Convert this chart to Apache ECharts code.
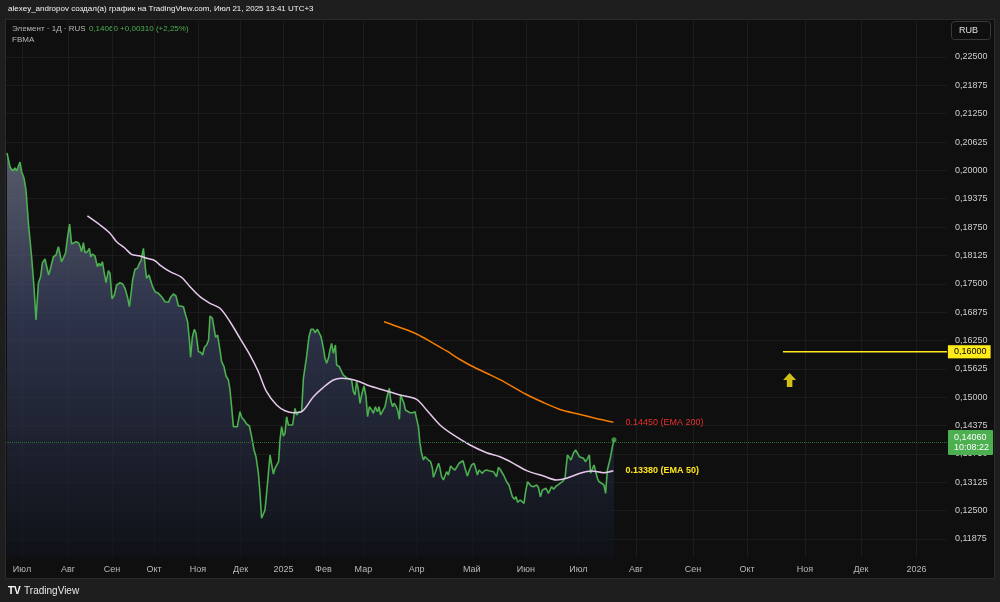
<!DOCTYPE html>
<html>
<head>
<meta charset="utf-8">
<script src="https://cdn.jsdelivr.net/npm/echarts@6/dist/echarts.min.js"></script>
<style>
  html, body { margin: 0; padding: 0; background: #1e1e1e; }
  #pane {
    position: absolute; left: 5px; top: 19px; width: 990px; height: 560px;
    background: #0f0f0f; border: 1px solid #2b2b2b; box-sizing: border-box;
  }
  #chart { position: absolute; left: 0; top: 0; width: 1000px; height: 602px; }
</style>
</head>
<body>
<div id="pane"></div>
<div id="chart"></div>
<script>
// x is a bar number on the daily chart, y the price in RUB
const close = [
  [0.5,0.20384],[2,0.20075],[3.3,0.19993],[4.5,0.20053],[5.3,0.19987],[6.2,0.20009],[7,0.20185],[7.8,0.19971],[9,0.19832],[10,0.19568],
  [11.2,0.18840],[12.8,0.18097],[14,0.17436],[15,0.16702],[16.2,0.17518],[17.3,0.17656],[18.2,0.17959],[19.5,0.18047],[20.3,0.18069],[21.3,0.17694],
  [22.3,0.17848],[23.7,0.18097],[25,0.18135],[26.2,0.18318],[27,0.18333],[27.8,0.17987],[28.7,0.18069],[29.8,0.18186],[30.8,0.18538],[31.8,0.18818],
  [32.8,0.18377],[33.7,0.18393],[35,0.18428],[36.2,0.18406],[37,0.18333],[37.8,0.18208],[38.7,0.18406],[39.5,0.18186],[40.7,0.18208],[41.7,0.18283],
  [42.3,0.18097],[43.3,0.18157],[44.5,0.18113],[45.7,0.17877],[46.5,0.17952],[47.3,0.17892],[48.2,0.17987],[49,0.17767],[50,0.17524],[51.2,0.17789],
  [52,0.17731],[53,0.17171],[54.2,0.17253],[55.3,0.17474],[57,0.17524],[58.3,0.17496],[59.5,0.17401],[60.7,0.17216],[61.7,0.16995],[62.5,0.17275],
  [63.3,0.17584],[64.5,0.17820],[65.7,0.17842],[66.7,0.17952],[67.5,0.18009],[68.7,0.18283],[69.7,0.17842],[70.3,0.17621],[71.5,0.17694],[72,0.17731],
  [73.3,0.17436],[74.5,0.17326],[76.2,0.17290],[77.8,0.17216],[79.5,0.17105],[81.2,0.17092],[82.3,0.17202],[83.7,0.17275],[85,0.17231],[86.2,0.17011],
  [87.3,0.17011],[88.7,0.16995],[89.8,0.16812],[90.8,0.16664],[91.7,0.16261],[92.3,0.15880],[93.2,0.16334],[94.2,0.16497],[95,0.16409],[96.2,0.16003],
  [97.3,0.15990],[98.3,0.15930],[99.2,0.16100],[100.3,0.16151],[101.3,0.16261],[102,0.16790],[103.2,0.16739],[104,0.16702],[104.8,0.16320],[105.8,0.16371],
  [107,0.16040],[107.8,0.15783],[109,0.15672],[110,0.15467],[111.2,0.15379],[112,0.15159],[112.8,0.14791],[113.7,0.14350],[114.7,0.14314],[115.7,0.14350],
  [117,0.14680],[117.8,0.14557],[119,0.14497],[120.3,0.14409],[121.7,0.14365],[122.8,0.14129],[124,0.13836],[125,0.13688],[126.2,0.13322],[127,0.12881],
  [127.8,0.12330],[128.7,0.12365],[129.5,0.12513],[130.3,0.12881],[131.2,0.13322],[132,0.13726],[133,0.13468],[133.7,0.13307],[134.5,0.13432],[135.3,0.13395],
  [136.3,0.13578],[137,0.14056],[137.8,0.14350],[138.7,0.14145],[139.5,0.14204],[140.3,0.14570],[141.2,0.14387],[142,0.14425],[143.3,0.14387],[144.5,0.14755],
  [145.3,0.14608],[146.5,0.14680],[147.8,0.14680],[148.7,0.15417],[149.5,0.15452],[150.3,0.15893],[151.5,0.16334],[152.5,0.16497],[153.7,0.16497],[154.5,0.16422],
  [155.7,0.16497],[156.7,0.16481],[157.5,0.16334],[158.7,0.16078],[159.5,0.15858],[160.3,0.15747],[161.2,0.15858],[162,0.16040],[162.8,0.16188],[163.7,0.15968],
  [164.7,0.16151],[165.3,0.15710],[166.7,0.15672],[167.8,0.15562],[168.7,0.15489],[169.5,0.15452],[170.7,0.15417],[171.7,0.15379],[172.8,0.15379],[173.7,0.15121],
  [174.5,0.15048],[175.3,0.15342],[176.2,0.15159],[177,0.14865],[177.8,0.15048],[179,0.15247],[180,0.15011],[180.8,0.14570],[181.7,0.14791],[182.8,0.14718],
  [183.7,0.14645],[184.7,0.14791],[185.7,0.14680],[186.5,0.14791],[187.3,0.14608],[188.3,0.14608],[189.5,0.14791],[190.7,0.15048],[191.7,0.15196],[192.3,0.14938],
  [193.3,0.14791],[194,0.14865],[195,0.14806],[195.8,0.14718],[196.7,0.14513],[197.3,0.15048],[198.2,0.15011],[199,0.14865],[199.7,0.14718],[200.7,0.14680],
  [202,0.14658],[203.3,0.14658],[204.5,0.14680],[205.3,0.14645],[206.2,0.14350],[207,0.13984],[207.8,0.13763],[208.7,0.13615],[209.5,0.13688],[210.3,0.13653],
  [211.2,0.13615],[212.3,0.13578],[213.2,0.13432],[213.7,0.13234],[214.5,0.13322],[215.3,0.13358],[216.3,0.13543],[217,0.13432],[217.8,0.13247],[218.7,0.13175],
  [219.5,0.13212],[220.3,0.13358],[221.2,0.13285],[222.3,0.13483],[223.3,0.13432],[224.5,0.13395],[225.3,0.13358],[226.5,0.13543],[227.5,0.13505],[228.5,0.13600],
  [229.5,0.13432],[230.7,0.13263],[231.7,0.13395],[232.8,0.13505],[234,0.13543],[234.8,0.13432],[235.7,0.13285],[236.5,0.13395],[237.3,0.13432],[238.2,0.13322],
  [239.2,0.13380],[240.3,0.13395],[241.5,0.13380],[242.5,0.13410],[243.7,0.13358],[244.5,0.13322],[245.3,0.13247],[246.2,0.13454],[247.3,0.13395],[248.2,0.13358],
  [249.2,0.13247],[250.3,0.13137],[251.5,0.13064],[252.5,0.13027],[253.2,0.12806],[254.2,0.12749],[255,0.12806],[255.8,0.12683],[257,0.12734],[257.8,0.12696],
  [259,0.12661],[259.8,0.12917],[260.8,0.13137],[261.7,0.13137],[262.5,0.13042],[263.7,0.13027],[264.5,0.13027],[265.3,0.13064],[266.2,0.13014],[267.2,0.12806],
  [268.2,0.12954],[269.2,0.12917],[270,0.12992],[271.2,0.12881],[272,0.12844],[272.8,0.13027],[273.8,0.12970],[274.8,0.13027],[275.8,0.13064],[277,0.13102],
  [278.2,0.13137],[279.5,0.13212],[280.7,0.13726],[281.7,0.13726],[282.5,0.13615],[283.7,0.13763],[284.8,0.13836],[285.8,0.13798],[286.7,0.13688],[287.5,0.13726],
  [288.7,0.13653],[289.8,0.13578],[290.8,0.13653],[291.7,0.13726],[292.3,0.13322],[293.2,0.13307],[294,0.13505],[294.8,0.13527],[295.7,0.13212],[296.5,0.13137],
  [297.8,0.13102],[299,0.13064],[299.8,0.12881],[300.7,0.13395],[301.5,0.13432],[302.3,0.13688],[303.2,0.13909],[304,0.14060]
];

const ema50 = [
  [40.7,0.18995],[47,0.18796],[52,0.18613],[55.3,0.18428],[59.5,0.18283],[62.8,0.18150],[67,0.18113],[70.3,0.18062],[74.5,0.18009],[77,0.17914],
  [82,0.17767],[87.8,0.17643],[92,0.17436],[97,0.17216],[102,0.17070],[107,0.16960],[112,0.16664],[117,0.16298],[122,0.15930],[126.2,0.15562],
  [130.3,0.15121],[135.3,0.14828],[139.5,0.14702],[143.7,0.14658],[147.8,0.14680],[153.7,0.15011],[158.7,0.15218],[163.7,0.15379],[167.8,0.15417],[175.3,0.15364],
  [182,0.15247],[188.7,0.15159],[197,0.15048],[205.3,0.14954],[210.3,0.14718],[217,0.14387],[223.7,0.14167],[232,0.13946],[240.3,0.13776],[247,0.13688],
  [253.7,0.13543],[260.3,0.13380],[268.7,0.13263],[275.3,0.13175],[280.3,0.13212],[287,0.13322],[292.8,0.13373],[298.7,0.13336],[303.7,0.13380]
];

const ema200 = [
  [189,0.16664],[197,0.16537],[205.3,0.16393],[213.7,0.16188],[220.3,0.16019],[227,0.15831],[232.8,0.15688],[241.2,0.15511],[249.5,0.15328],[259.8,0.15070],
  [268.7,0.14883],[277.8,0.14718],[286.2,0.14630],[294.5,0.14535],[303.7,0.14450]
];

// drawn level and arrow
const levelPrice = 0.16;
const levelFrom = 388.5;
const arrowPoint = [391.8, 0.15379];

// axis scale
const xMax = 470.5;
const yMin = 0.114771;
const yMax = 0.233377;
const yTicks = [0.11875, 0.125, 0.13125, 0.1375, 0.14375, 0.15, 0.15625, 0.1625, 0.16875,
  0.175, 0.18125, 0.1875, 0.19375, 0.2, 0.20625, 0.2125, 0.21875, 0.225];
const monthTicks = [8, 31, 53, 74, 96, 117.3, 138.7, 158.7, 178.7, 205.3, 232.9, 259.9,
  286.2, 315, 343.5, 370.5, 399.5, 427.5, 455.3];
const monthNames = ["Июл", "Авг", "Сен", "Окт", "Ноя", "Дек", "2025", "Фев", "Мар", "Апр",
  "Май", "Июн", "Июл", "Авг", "Сен", "Окт", "Ноя", "Дек", "2026"];

const lastClose = close[close.length - 1];
const fmt = (v) => v.toFixed(5).replace(".", ",");
const FONT = "Liberation Sans";

const chart = echarts.init(document.getElementById("chart"));
chart.setOption({
  backgroundColor: "transparent",
  animation: false,
  textStyle: { fontFamily: FONT },
  grid: { left: 6, right: 53, top: 19, bottom: 45 },
  xAxis: {
    type: "value",
    min: 0,
    max: xMax,
    axisLine: { show: false },
    axisTick: { show: false, customValues: monthTicks },
    splitLine: { show: true, lineStyle: { color: "#1c1c1c", width: 1 } },
    axisLabel: {
      customValues: monthTicks,
      color: "#b8b8b8",
      fontSize: 9,
      margin: 8,
      formatter: function (v) {
        let best = 0;
        for (let i = 0; i < monthTicks.length; i++) {
          if (Math.abs(monthTicks[i] - v) < Math.abs(monthTicks[best] - v)) best = i;
        }
        return monthNames[best];
      },
    },
  },
  yAxis: {
    type: "value",
    position: "right",
    min: yMin,
    max: yMax,
    axisLine: { show: false },
    axisTick: { show: false, customValues: yTicks },
    splitLine: { show: true, lineStyle: { color: "#1c1c1c", width: 1 } },
    axisLabel: {
      customValues: yTicks,
      color: "#cfcfcf",
      fontSize: 9,
      margin: 8,
      formatter: fmt,
    },
  },
  series: [
    {
      name: "close",
      type: "line",
      data: close,
      symbol: "none",
      z: 3,
      lineStyle: { color: "#4caf50", width: 1.6 },
      areaStyle: {
        color: new echarts.graphic.LinearGradient(0, 0, 0, 1, [
          { offset: 0, color: "#767c93" },
          { offset: 0.4, color: "#3b4364" },
          { offset: 1, color: "#10131b" },
        ]),
      },
      markLine: {
        silent: true,
        symbol: "none",
        data: [{ yAxis: lastClose[1] }],
        lineStyle: { color: "#2f6a33", type: "dotted", width: 1 },
        label: {
          position: "end",
          distance: 1,
          formatter: fmt(lastClose[1]) + "\n10:08:22",
          backgroundColor: "#4caf50",
          color: "#ffffff",
          fontSize: 9,
          lineHeight: 10,
          padding: [3, 4, 2, 6],
          borderRadius: 1,
        },
      },
    },
    {
      name: "last",
      type: "scatter",
      data: [lastClose],
      symbolSize: 5,
      z: 4,
      itemStyle: { color: "#4caf50" },
    },
    {
      name: "EMA 50",
      type: "line",
      data: ema50,
      symbol: "none",
      smooth: 0.3,
      z: 4,
      lineStyle: { color: "#e6c8ec", width: 1.5 },
      endLabel: {
        show: true,
        distance: 12,
        color: "#ffe61c",
        fontSize: 9,
        fontWeight: "bold",
        formatter: (p) => p.value[1].toFixed(5) + " (EMA 50)",
      },
    },
    {
      name: "EMA 200",
      type: "line",
      data: ema200,
      symbol: "none",
      smooth: 0.3,
      z: 4,
      lineStyle: { color: "#f57c00", width: 1.5 },
      endLabel: {
        show: true,
        distance: 12,
        color: "#e8302c",
        fontSize: 9,
        formatter: (p) => p.value[1].toFixed(5) + " (EMA 200)",
      },
    },
    {
      name: "level",
      type: "line",
      data: [[levelFrom, levelPrice], [xMax, levelPrice]],
      symbol: "none",
      z: 5,
      lineStyle: { color: "#ffeb1a", width: 1.5 },
      endLabel: {
        show: true,
        distance: 1,
        formatter: (p) => fmt(p.value[1]),
        backgroundColor: "#ffeb1a",
        borderColor: "#3a3a00",
        borderWidth: 0.5,
        color: "#000000",
        fontSize: 9,
        padding: [2, 4, 2, 6],
      },
    },
    {
      name: "arrow",
      type: "scatter",
      data: [arrowPoint],
      symbol: "path://M7,0 L14,7 L10,7 L10,14 L4,14 L4,7 L0,7 Z",
      symbolSize: [13, 14],
      z: 5,
      itemStyle: { color: "#ffeb1a" },
    },
  ],
  graphic: [
    {
      type: "text",
      left: 8,
      top: 5,
      style: {
        text: "alexey_andropov создал(а) график на TradingView.com, Июл 21, 2025 13:41 UTC+3",
        fill: "#f4f4f4",
        fontSize: 8,
        fontFamily: FONT,
      },
    },
    {
      type: "text",
      left: 12,
      top: 23,
      style: {
        text: "{g|Элемент · 1Д · RUS} {v|0,14060 +0,00310 (+2,25%)}",
        rich: {
          g: { fill: "#b8b8b8", fontSize: 8, fontFamily: FONT },
          v: { fill: "#4caf50", fontSize: 8, fontFamily: FONT },
        },
      },
    },
    {
      type: "text",
      left: 12,
      top: 36,
      style: { text: "FBMA", fill: "#b8b8b8", fontSize: 8, fontFamily: FONT },
    },
    {
      type: "rect",
      left: 951,
      top: 21,
      shape: { width: 39, height: 18, r: 3 },
      style: { fill: "#0f0f0f", stroke: "#3a3a3a", lineWidth: 1 },
    },
    {
      type: "text",
      left: 959,
      top: 26,
      style: { text: "RUB", fill: "#e0e0e0", fontSize: 9, fontFamily: FONT },
    },
    {
      type: "text",
      left: 8,
      top: 585,
      style: {
        text: "{t|TV} {n|TradingView}",
        rich: {
          t: { fill: "#ffffff", fontSize: 10, fontWeight: "bold", fontFamily: FONT },
          n: { fill: "#e6e6e6", fontSize: 10, fontFamily: FONT },
        },
      },
    },
  ],
});
</script>
</body>
</html>
